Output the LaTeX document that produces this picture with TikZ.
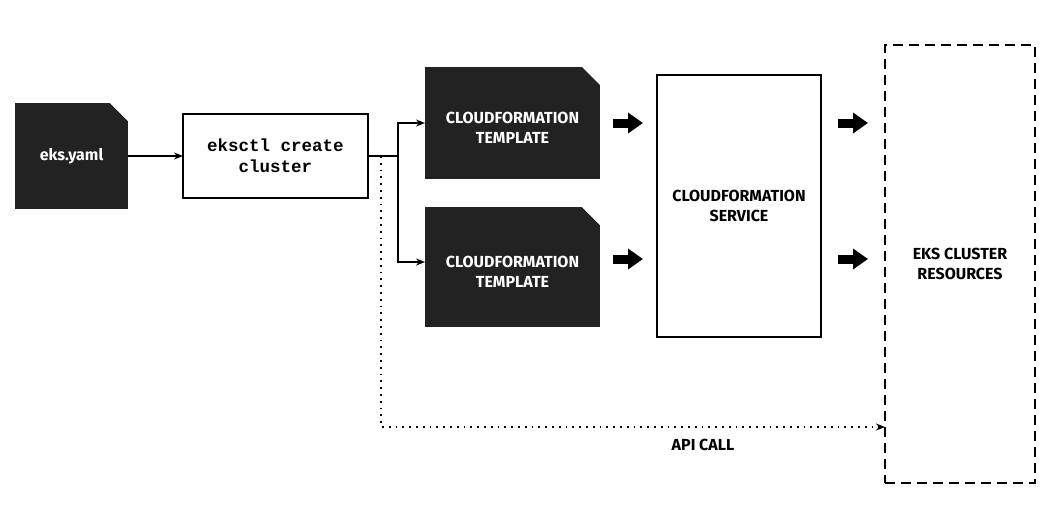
\documentclass[tikz,border=0pt]{standalone}
\usepackage{fontspec}
\setmainfont{Fira Sans}
\setmonofont{Liberation Mono}
\usetikzlibrary{arrows.meta}
\definecolor{docfill}{HTML}{222222}
% primeira linha mais alta, empurra o texto para baixo
\newcommand{\linhaalta}[1]{\raisebox{0pt}[21pt]{#1}}

\begin{document}
\begin{tikzpicture}[x=1pt, y=-1pt, >={Stealth[length=9pt,width=7pt]},
    rotulo/.style={font=\bfseries\fontsize{16}{20}\selectfont, align=center},
    doc/.style={rotulo, fill=docfill, text=white, inner sep=0pt, outer sep=0pt,
      path picture={\fill[white] ([xshift=-18pt]path picture bounding box.north east)
        -- (path picture bounding box.north east)
        -- ([yshift=-18pt]path picture bounding box.north east) -- cycle;}},
    caixa/.style={rotulo, draw, line width=2.2pt, inner sep=0pt, outer sep=0pt},
    conector/.style={line width=1.5pt, ->},
    seta/.style={line width=9pt, -{Triangle[length=15pt,width=20pt]}},
    apicall/.style={line width=1.8pt, dash pattern=on 1.8pt off 5pt, ->}]

    \useasboundingbox (0,0) rectangle (1053,531);

    % Arquivo de entrada e comando
    \node[doc, minimum width=113pt, minimum height=106pt] (yaml) at (71.5,156) {eks.yaml};
    \node[caixa, minimum width=185pt, minimum height=84pt,
          font=\ttfamily\bfseries\fontsize{17.5}{21}\selectfont] (ekscmd) at (275.5,156) {eksctl create\\cluster};

    % Templates gerados
    \node[doc, minimum width=175pt, minimum height=112pt] (tpl1) at (512.5,123) {\linhaalta{CLOUDFORMATION}\\TEMPLATE};
    \node[doc, minimum width=175pt, minimum height=120pt] (tpl2) at (512.5,267) {\linhaalta{CLOUDFORMATION}\\TEMPLATE};

    % Servico e recursos
    \node[caixa, line width=2.5pt, minimum width=164pt, minimum height=262pt] (svc) at (739,206) {CLOUDFORMATION\\SERVICE};
    \node[caixa, dash pattern=on 10pt off 6pt, minimum width=150pt, minimum height=438pt] (eks) at (960,264) {EKS CLUSTER\\RESOURCES};

    % Ligacoes
    \draw[conector] (yaml) -- (ekscmd);
    \draw[conector] (ekscmd.east) -- ++(30,0) |- (tpl1.west);
    \draw[conector] (ekscmd.east) -- ++(30,0) |- ([yshift=5pt]tpl2.west);

    % Setas grossas
    \coordinate (s1) at (613,123);
    \coordinate (s2) at (613,259);
    \coordinate (s3) at (838,123);
    \coordinate (s4) at (838,259);
    \draw[seta] (s1) -- ++(30,0);
    \draw[seta] (s2) -- ++(30,0);
    \draw[seta] (s3) -- ++(30,0);
    \draw[seta] (s4) -- ++(30,0);

    % Chamada direta da API
    \coordinate (apiturn) at (381,427);
    \draw[apicall] ([xshift=13pt]ekscmd.east) -- (apiturn) -- (apiturn -| eks.west);
    \node[rotulo] (apilabel) at (703,445) {API CALL};

\end{tikzpicture}
\end{document}
